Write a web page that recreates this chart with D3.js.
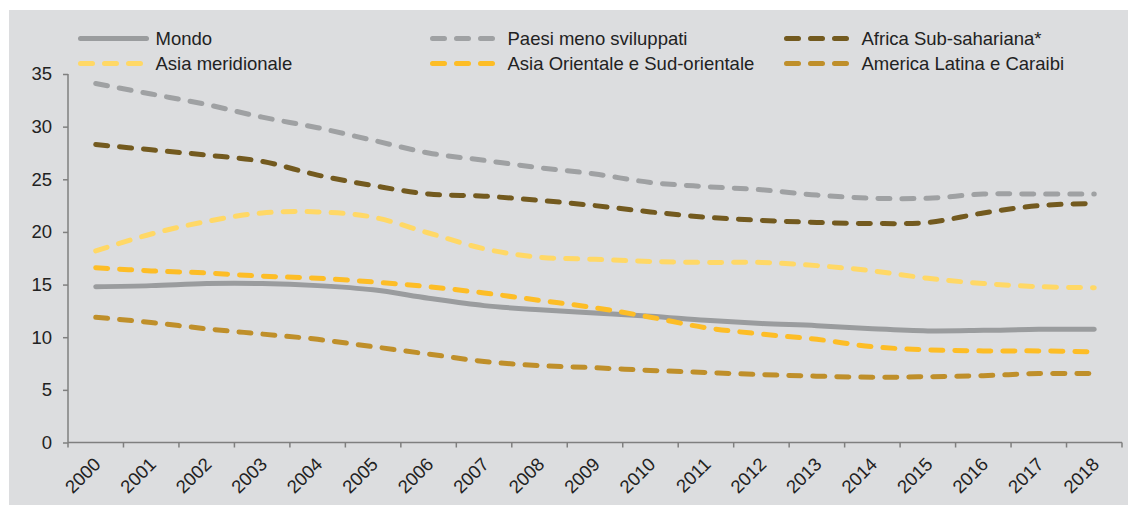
<!DOCTYPE html>
<html>
<head>
<meta charset="utf-8">
<script src="https://cdn.jsdelivr.net/npm/d3@7"></script>
<style>
  html, body { margin: 0; padding: 0; background: #ffffff; }
  svg { display: block; font-family: "Liberation Sans", Arial, sans-serif; }
</style>
</head>
<body>
<svg id="chart" width="1130" height="508"></svg>
<script>
const years = ["2000","2001","2002","2003","2004","2005","2006","2007","2008","2009","2010","2011","2012","2013","2014","2015","2016","2017","2018"];
const yTicks = [0, 5, 10, 15, 20, 25, 30, 35];

const seriesNames = ["Mondo", "Paesi meno sviluppati", "Africa Sub-sahariana*", "Asia meridionale", "Asia Orientale e Sud-orientale", "America Latina e Caraibi"];

const mondo    = [14.8, 14.9, 15.1, 15.1, 14.9, 14.5, 13.7, 13.0, 12.6, 12.3, 12.0, 11.6, 11.3, 11.1, 10.8, 10.6, 10.65, 10.75, 10.75];
const paesi    = [34.1, 33.1, 32.1, 30.9, 29.9, 28.7, 27.5, 26.8, 26.1, 25.5, 24.7, 24.3, 24.0, 23.5, 23.2, 23.2, 23.6, 23.6, 23.6];
const africa   = [28.3, 27.8, 27.3, 26.7, 25.4, 24.4, 23.6, 23.4, 23.0, 22.5, 21.9, 21.4, 21.1, 20.9, 20.8, 20.9, 21.8, 22.5, 22.7];
const asiaMer  = [18.2, 19.8, 21.0, 21.8, 21.9, 21.4, 19.9, 18.4, 17.6, 17.4, 17.2, 17.1, 17.1, 16.8, 16.3, 15.6, 15.1, 14.8, 14.7];
const asiaOr   = [16.6, 16.3, 16.1, 15.8, 15.6, 15.25, 14.8, 14.2, 13.5, 12.8, 11.9, 10.9, 10.3, 9.8, 9.1, 8.8, 8.7, 8.7, 8.6];
const america  = [11.9, 11.4, 10.8, 10.3, 9.8, 9.1, 8.4, 7.7, 7.3, 7.1, 6.85, 6.65, 6.45, 6.3, 6.2, 6.25, 6.35, 6.55, 6.55];

const seriesValues = [mondo, paesi, africa, asiaMer, asiaOr, america];
const colors = ["#9a9c9e", "#9fa1a3", "#735a1f", "#ffd866", "#fdbd26", "#bf8f2a"];
const dashed = [false, true, true, true, true, true];

const svg = d3.select("#chart");

// background panel
svg.append("rect").attr("x", 9).attr("y", 10).attr("width", 1119).attr("height", 495).attr("fill", "#dcdddf");

const plotLeft = 68, plotRight = 1122, plotTop = 74, plotBottom = 442.5;
const x = d3.scaleBand().domain(years).range([plotLeft, plotRight]).paddingInner(0).paddingOuter(0);
const y = d3.scaleLinear().domain([0, 35]).range([plotBottom, plotTop]);

const axisColor = "#7f7f7f";
const textColor = "#222222";
const fontSize = 18.5;

// Y axis
const yAxis = svg.append("g").attr("transform", `translate(${plotLeft},0)`)
  .call(d3.axisLeft(y).tickValues(yTicks).tickSize(5).tickPadding(11).tickFormat(d3.format("d")));
yAxis.select(".domain").attr("stroke", axisColor).attr("stroke-width", 1.5).attr("d", `M0,${plotTop}V${plotBottom}`);
yAxis.selectAll(".tick line").attr("stroke", axisColor).attr("stroke-width", 1.5);
yAxis.selectAll(".tick text").attr("fill", textColor).attr("font-size", fontSize).attr("font-family", "Liberation Sans, Arial, sans-serif");

// X axis: ticks at band boundaries
const xg = svg.append("g");
xg.append("line").attr("x1", plotLeft).attr("x2", plotRight).attr("y1", plotBottom).attr("y2", plotBottom)
  .attr("stroke", axisColor).attr("stroke-width", 1.5);
const boundaries = years.map(d => x(d)).concat([plotRight]);
xg.selectAll("line.tk").data(boundaries).enter().append("line").attr("class", "tk")
  .attr("x1", d => d).attr("x2", d => d).attr("y1", plotBottom).attr("y2", plotBottom + 5)
  .attr("stroke", axisColor).attr("stroke-width", 1.5);
xg.selectAll("text").data(years).enter().append("text")
  .attr("text-anchor", "end")
  .attr("font-size", fontSize)
  .attr("fill", textColor)
  .attr("transform", d => `translate(${x(d) + x.bandwidth() / 2 + 6},${plotBottom + 23}) rotate(-45)`)
  .text(d => d);

// Lines
const line = d3.line()
  .x((d, i) => x(years[i]) + x.bandwidth() / 2)
  .y(d => y(d))
  .curve(d3.curveCatmullRom.alpha(0));

seriesValues.forEach((vals, k) => {
  svg.append("path")
    .datum(vals)
    .attr("d", line)
    .attr("fill", "none")
    .attr("stroke", colors[k])
    .attr("stroke-width", 5)
    .attr("stroke-linecap", "round")
    .attr("stroke-linejoin", "round")
    .attr("stroke-dasharray", dashed[k] ? "12,12" : null);
});

// Legend
const legendPos = [
  {lx: 80.5, ly: 38.5},
  {lx: 432.5, ly: 38.5},
  {lx: 786.5, ly: 38.5},
  {lx: 80.5, ly: 63.5},
  {lx: 432.5, ly: 63.5},
  {lx: 786.5, ly: 63.5}
];
const lg = svg.append("g");
seriesNames.forEach((name, k) => {
  const p = legendPos[k];
  lg.append("line")
    .attr("x1", p.lx).attr("x2", p.lx + 66).attr("y1", p.ly).attr("y2", p.ly)
    .attr("stroke", colors[k]).attr("stroke-width", 5).attr("stroke-linecap", "round")
    .attr("stroke-dasharray", dashed[k] ? "12,12" : null);
  lg.append("text")
    .attr("x", p.lx + 75)
    .attr("y", p.ly).attr("dy", "0.35em")
    .attr("font-size", fontSize).attr("fill", textColor)
    .text(name);
});
</script>
</body>
</html>
